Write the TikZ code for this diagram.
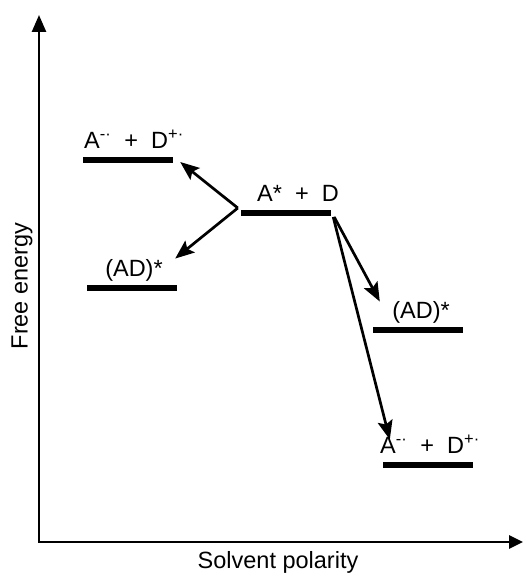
\documentclass[tikz,border=0pt]{standalone}
\usepackage{fontspec}
\setmainfont{Liberation Sans}
\usetikzlibrary{arrows.meta}

\begin{document}
\begin{tikzpicture}[x=1pt,y=-1pt,
    level/.style={fill=black,inner sep=0pt,minimum width=90pt,minimum height=6.5pt},
    lbl/.style={anchor=base,inner sep=0pt,font=\fontsize{23.5}{27}\selectfont},
    rxn/.style={line width=2.7pt,-{Stealth[length=19pt,width=15pt,inset=3.5pt]}},
    axis/.style={line width=2.6pt,{Triangle[length=17pt,width=14pt]}-{Triangle[length=14pt,width=13pt]}}]
  \useasboundingbox (0,0) rectangle (525,575);

  % axes
  \coordinate (O) at (39,542);
  \coordinate (ytop) at (39,15);
  \coordinate (xend) at (523,542);
  \draw[axis] (ytop) -- (O) -- (xend);
  \node[font=\fontsize{23.5}{27}\selectfont,rotate=90] (ylab) at (22,286) {Free energy};
  \node[font=\fontsize{23.5}{27}\selectfont] (xlab) at (278,562) {Solvent polarity};

  % energy levels
  \node[level] (tl) at (128,160) {};
  \node[level] (lAD) at (132,288) {};
  \node[level] (ctr) at (286,213) {};
  \node[level] (rAD) at (418,330) {};
  \node[level] (rA) at (428,465) {};

  \node[lbl] (tlL) at ([shift={(6,-8)}]tl.north) {A\textsuperscript{-·}~~+~~D\textsuperscript{+·}};
  \node[lbl] (lADL) at ([shift={(2,-8)}]lAD.north) {(AD)*};
  \node[lbl] (ctrL) at ([shift={(12,-8)}]ctr.north) {A*~~+~~D};
  \node[lbl] (rADL) at ([shift={(3,-8)}]rAD.north) {(AD)*};
  \node[lbl] (rAL) at ([shift={(2,-8)}]rA.north) {A\textsuperscript{-·}~~+~~D\textsuperscript{+·}};

  % transitions
  \coordinate (src) at ([shift={(-3,-5)}]ctr.west);
  \draw[rxn] (src) -- ([shift={(7,2)}]tl.east);
  \draw[rxn] (src) -- ([shift={(-2,-26)}]lAD.north east);
  \draw[rxn] ([shift={(3,4)}]ctr.east) -- ([shift={(7,-25)}]rAD.north west);
  \draw[rxn] ([shift={(2,4)}]ctr.east) -- ([shift={(7,-22)}]rA.north west);
\end{tikzpicture}
\end{document}
